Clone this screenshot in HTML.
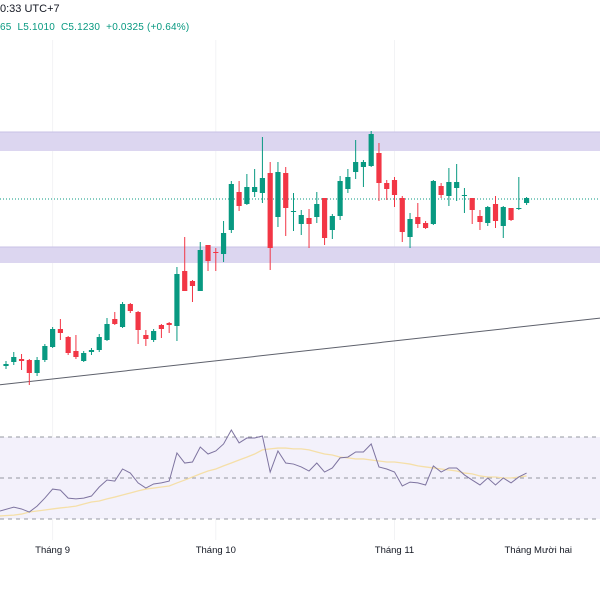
<!DOCTYPE html>
<html><head><meta charset="utf-8">
<style>
html,body{margin:0;padding:0;background:#fff;width:600px;height:600px;overflow:hidden;font-family:"Liberation Sans","Noto Sans CJK SC",sans-serif;}
#hdr1{position:absolute;left:0;top:3px;font-size:11px;color:#131722;}
#hdr2{position:absolute;left:0;top:22px;font-size:10px;color:#089981;letter-spacing:0.2px;}
svg{position:absolute;left:0;top:0;}
</style></head>
<body>
<div id="hdr1">0:33 UTC+7</div>
<div id="hdr2">65&nbsp; L5.1010&nbsp; C5.1230&nbsp; +0.0325 (+0.64%)</div>
<svg id="chart" width="600" height="600"></svg>
<script>
// price data (price-index units)
const opens  = [134,138,141,140,127,140,153,171,163,149,139,148,150,160,181,173,196,188,165,160,175,177,174,229,219,209,255,248,246,270,308,296,308,307,327,283,327,288,276,282,283,302,270,284,311,328,333,334,347,317,320,302,263,283,277,276,314,304,312,304,302,284,277,296,274,292,291,297];
const highs  = [139,148,146,141,143,156,173,181,164,165,149,152,166,182,188,198,197,189,170,171,176,178,233,263,220,258,255,252,279,319,319,326,331,363,338,338,333,307,290,291,308,302,286,324,331,360,340,369,357,320,323,304,287,297,279,320,317,332,336,312,302,290,294,304,294,292,323,303];
const lows   = [131,135,130,115,124,138,152,160,145,141,138,145,148,159,175,172,187,156,154,158,162,167,159,209,198,209,229,229,238,267,289,295,303,297,230,273,264,269,265,252,277,255,261,280,307,321,313,333,299,300,293,258,252,272,271,275,302,294,299,287,276,270,274,272,262,279,290,295];
const closes = [136,143,139,127,140,154,171,167,147,143,147,150,163,176,176,196,189,170,161,169,171,175,226,209,214,250,239,247,267,316,294,313,313,322,252,328,292,289,285,276,296,262,284,319,323,338,338,366,317,311,305,268,281,276,272,319,305,318,318,305,290,278,293,279,293,280,292,302];
const rsi   = [33.9,35.8,34.9,33.4,36.3,40.2,44.6,44.1,40.2,39.8,40.2,41.2,45.6,49.0,48.5,54.4,52.4,47.6,45.1,47.1,47.6,48.5,62.2,57.3,57.8,65.1,61.7,63.2,66.6,73.4,67.1,69.5,69.5,70.5,52.9,63.2,57.3,56.8,55.4,53.4,57.3,52.9,54.9,59.8,60.2,62.7,62.7,66.6,55.4,54.4,52.9,46.1,48.0,47.6,46.6,55.9,52.9,54.9,54.9,51.5,49.0,46.6,50.0,46.6,50.0,47.6,50.5,52.4];
const rsiMA = [31.5,31.9,32.4,33.4,33.9,34.4,34.9,35.4,35.8,36.3,37.3,38.3,38.8,39.8,40.7,41.7,42.7,43.7,44.6,45.1,45.6,46.1,47.6,49.0,50.5,52.0,53.4,54.4,55.9,57.3,58.8,60.2,61.7,63.7,64.2,64.6,64.6,64.2,64.2,63.7,62.7,61.7,61.2,60.2,59.8,59.3,59.3,58.8,58.3,57.8,57.8,57.3,56.8,55.9,55.4,54.9,54.4,53.9,53.4,52.4,52.0,51.0,50.5,50.5,50.0,50.0,50.5,51.0];
const zonesTop = [[368,349],[253,237]];
const lastPrice = 301;
const trend = [[-1,115],[80,185]]; // [candle index, price]
const rsiLevels = [70,50,30];
const months = ["Tháng 9","Tháng 10","Tháng 11","Tháng Mười hai"];
const monthIdx = [6,27,50,68.5];

const NS="http://www.w3.org/2000/svg";
const svg=document.getElementById('chart');
function xS(i){return 6+i*7.77;}
function yS(p){return 500-p;}
function rY(v){return 478-(v-50)*82/40;}
function mk(t,a,parent){const e=document.createElementNS(NS,t);for(const k in a)e.setAttribute(k,a[k]);(parent||svg).appendChild(e);return e;}

// grid verticals
monthIdx.slice(0,3).forEach((m,i)=>{
  const g=mk('line',{x1:xS(m),x2:xS(m),y1:40,y2:540,stroke:'#f2f3f5','stroke-width':1});
  
  
});
// zones
zonesTop.forEach((z,i)=>{
  const r=mk('rect',{x:0,y:yS(z[0]),width:600,height:yS(z[1])-yS(z[0]),fill:'#dcd6f0'});
  
  
  mk('line',{x1:0,x2:600,y1:yS(z[0]),y2:yS(z[0]),stroke:'#c9c1e6','stroke-width':1});
});
// last price line
const lp=mk('line',{x1:0,x2:600,y1:yS(lastPrice),y2:yS(lastPrice),stroke:'#089981','stroke-width':1,'stroke-dasharray':'1,2'});


// trend line
const sl=(trend[1][1]-trend[0][1])/(trend[1][0]-trend[0][0]);
const tl=mk('line',{x1:0,x2:600,y1:yS(trend[0][1]+sl*((0-6)/7.77-trend[0][0])),y2:yS(trend[0][1]+sl*((600-6)/7.77-trend[0][0])),stroke:'#5d606b','stroke-width':1});


// candles
for(let i=0;i<opens.length;i++){
  const up=closes[i]>=opens[i];const c=up?'#089981':'#f23645';
  const g=mk('g',{});
  
  
  mk('line',{x1:xS(i),x2:xS(i),y1:yS(highs[i]),y2:yS(lows[i]),stroke:c,'stroke-width':1},g);
  const t=yS(Math.max(opens[i],closes[i])),b=yS(Math.min(opens[i],closes[i]));
  mk('rect',{x:xS(i)-2.6,y:t,width:5.2,height:Math.max(1,b-t),fill:c},g);
}
// RSI pane
const bg=mk('rect',{x:0,y:rY(70),width:600,height:rY(30)-rY(70),fill:'#f3f1fb'});


rsiLevels.forEach(v=>{
  const l=mk('line',{x1:0,x2:600,y1:rY(v),y2:rY(v),stroke:'#9598a1','stroke-width':1,'stroke-dasharray':'4,4'});
  
  
});
const ma=mk('polyline',{points:rsiMA.map((v,i)=>[i==0?0:xS(i),rY(v)].join(',')).join(' '),fill:'none',stroke:'#f5dfa8','stroke-width':1.3});


const rl=mk('polyline',{points:rsi.map((v,i)=>[i==0?0:xS(i),rY(v)].join(',')).join(' '),fill:'none',stroke:'#7e74a0','stroke-width':1});


// month labels
months.forEach((m,i)=>{
  const t=mk('text',{x:xS(monthIdx[i]),y:553,'text-anchor':'middle','font-size':'9.5',fill:'#131722','font-family':'Liberation Sans, sans-serif'});
  t.textContent=m;
  
  
});
</script>
</body></html>
